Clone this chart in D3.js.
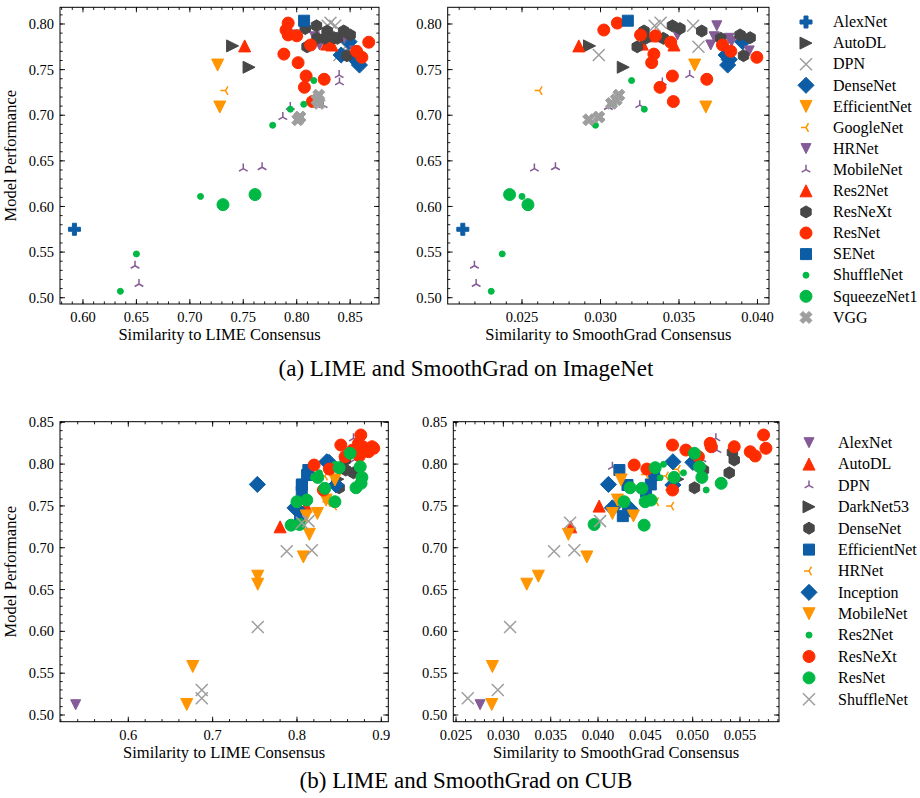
<!DOCTYPE html>
<html><head><meta charset="utf-8">
<script src="https://cdn.jsdelivr.net/npm/d3@7/dist/d3.min.js"></script>
<style>body{margin:0;background:#fff}svg{font-family:"Liberation Serif","Times New Roman",serif}</style>
</head><body><svg id="c" width="920" height="798"></svg>
<script>
// ---------- DATA: each point = [similarity to LIME consensus, similarity to SmoothGrad consensus, model performance]
const imagenetModels = ["AlexNet","AutoDL","DPN","DenseNet","EfficientNet","GoogleNet","HRNet","MobileNet","Res2Net","ResNeXt","ResNet","SENet","ShuffleNet","SqueezeNet1","VGG"];
const inAlexNet = [[0.592,0.02123,0.575]];
const inAutoDL = [[0.740,0.0293,0.776],[0.7554,0.03145,0.7526]];
const inDPN = [[0.8316,0.03383,0.8014],[0.829,0.03345,0.798],[0.836,0.0359,0.798],[0.8456,0.03624,0.775],[0.840,0.02989,0.766]];
const inDenseNet = [[0.849,0.03905,0.7806],[0.8416,0.0380,0.766],[0.855,0.0382,0.761],[0.8587,0.0381,0.755]];
const inEfficientNet = [[0.726,0.0360,0.755],[0.728,0.03671,0.709]];
const inGoogleNet = [[0.7333,0.02612,0.727]];
const inHRNet = [[0.8066,0.03741,0.798],[0.798,0.0349,0.788],[0.8166,0.03724,0.786],[0.8213,0.03702,0.777],[0.8316,0.03835,0.7806],[0.8446,0.03819,0.7843],[0.854,0.03947,0.7705]];
const inMobileNet = [[0.6487,0.02197,0.535],[0.6524,0.02208,0.515],[0.750,0.02579,0.6415],[0.7676,0.02713,0.643],[0.794,0.0305,0.709],[0.8247,0.0325,0.711],[0.840,0.03394,0.736],[0.811,0.03453,0.743],[0.8397,0.03568,0.744],[0.787,0.0300,0.698]];
const inRes2Net = [[0.7513,0.02862,0.776],[0.827,0.03351,0.787],[0.828,0.03266,0.778],[0.833,0.03468,0.777]];
const inResNeXt = [[0.8285,0.03277,0.7923],[0.819,0.03287,0.7843],[0.8097,0.03234,0.775],[0.838,0.034,0.7843],[0.8185,0.03458,0.798],[0.808,0.03506,0.795],[0.844,0.03645,0.7923],[0.826,0.03766,0.7843],[0.85,0.03889,0.788],[0.835,0.03953,0.785],[0.847,0.03911,0.7653]];
const inResNet = [[0.792,0.03107,0.801],[0.790,0.03021,0.7934],[0.792,0.03255,0.788],[0.788,0.0334,0.767],[0.8013,0.03326,0.7576],[0.8088,0.03458,0.743],[0.8072,0.03379,0.7306],[0.8257,0.03677,0.7394],[0.8147,0.03464,0.715],[0.861,0.03996,0.7635],[0.8674,0.03447,0.780],[0.813,0.03777,0.777],[0.856,0.0383,0.770],[0.800,0.0335,0.787]];
const inSENet = [[0.8069,0.03174,0.8036]];
const inShuffleNet = [[0.650,0.02374,0.548],[0.635,0.02304,0.507],[0.710,0.025,0.611],[0.7775,0.02968,0.689],[0.794,0.03279,0.7066],[0.8066,0.03081,0.712],[0.816,0.03198,0.738]];
const inSqueezeNet1 = [[0.761,0.02421,0.613],[0.731,0.02538,0.602]];
const inVGG = [[0.801,0.02925,0.695],[0.803,0.02989,0.698],[0.821,0.0307,0.713],[0.819,0.0310,0.717],[0.8206,0.03117,0.722]];

const cubModels = ["AlexNet","AutoDL","DPN","DarkNet53","DenseNet","EfficientNet","HRNet","Inception","MobileNet","Res2Net","ResNeXt","ResNet","ShuffleNet"];
const cubAlexNet = [[0.5376,0.02754,0.5123]];
const cubAutoDL = [[0.780,0.03712,0.725],[0.8108,0.04012,0.7498]];
const cubDPN = [[0.867,0.05245,0.8308],[0.873,0.05256,0.8168],[0.869,0.05097,0.8057],[0.838,0.04152,0.7968]];
const cubDarkNet53 = [[0.8484,0.04843,0.782]];
const cubDenseNet = [[0.8737,0.0542,0.814],[0.8574,0.05439,0.8049],[0.867,0.05386,0.7896],[0.8579,0.05114,0.7929],[0.850,0.05019,0.7717]];
const cubEfficientNet = [[0.8135,0.04226,0.7929],[0.8057,0.04311,0.775],[0.8037,0.04262,0.7378],[0.8057,0.04508,0.767],[0.806,0.04558,0.7757],[0.812,0.04593,0.7869]];
const cubHRNet = [[0.823,0.04505,0.7877],[0.836,0.04614,0.755],[0.8333,0.04717,0.7857],[0.8313,0.04762,0.769],[0.844,0.04773,0.7498],[0.8384,0.04843,0.7937]];
const cubInception = [[0.753,0.0411,0.7757],[0.7977,0.04152,0.7477],[0.800,0.04339,0.7462],[0.8353,0.04791,0.8028],[0.8464,0.04791,0.775],[0.838,0.05002,0.8021]];
const cubMobileNet = [[0.6693,0.02877,0.5126],[0.6764,0.02884,0.558],[0.7535,0.03247,0.6564],[0.7535,0.0337,0.666],[0.8147,0.03687,0.716],[0.8076,0.03882,0.689],[0.845,0.04244,0.781],[0.8345,0.04205,0.757],[0.8242,0.04152,0.741],[0.811,0.04374,0.738]];
const cubRes2Net = [[0.845,0.04692,0.7997],[0.8195,0.04656,0.7837],[0.8266,0.04903,0.7896],[0.830,0.05143,0.769]];
const cubResNeXt = [[0.8757,0.05749,0.8348],[0.852,0.04787,0.8228],[0.873,0.05185,0.8248],[0.889,0.05195,0.8208],[0.878,0.05439,0.8208],[0.866,0.04928,0.8168],[0.885,0.05608,0.8148],[0.874,0.05661,0.8097],[0.891,0.05774,0.8189],[0.857,0.05061,0.8088],[0.8203,0.04382,0.7989],[0.8384,0.04516,0.7941],[0.8313,0.04787,0.769]];
const cubResNet = [[0.850,0.04604,0.7957],[0.8116,0.04561,0.757],[0.833,0.04463,0.771],[0.870,0.04339,0.7717],[0.845,0.04276,0.755],[0.800,0.04498,0.755],[0.793,0.04487,0.727],[0.803,0.03959,0.7278],[0.863,0.05019,0.8129],[0.875,0.05072,0.7968],[0.877,0.05097,0.7841],[0.876,0.05301,0.777],[0.8247,0.04804,0.7841]];
const cubShuffleNet = [[0.6871,0.02624,0.520],[0.6871,0.02941,0.530],[0.7535,0.03071,0.6052],[0.7879,0.03536,0.6959],[0.8176,0.0375,0.697],[0.8057,0.03705,0.7298],[0.8136,0.04022,0.7318]];

const xLabels = ["Similarity to LIME Consensus","Similarity to SmoothGrad Consensus"];
const yLabel = "Model Performance";
const captions = ["(a) LIME and SmoothGrad on ImageNet","(b) LIME and SmoothGrad on CUB"];

// ---------- STYLE
const COL = {blue:"#0C5DA5", green:"#00B945", orange:"#FF9500", red:"#FF2C00", purple:"#845B97", dark:"#474747", gray:"#9e9e9e"};
const imagenetStyle = {
  AlexNet:["P","blue",12], AutoDL:[">","dark",12], DPN:["x","gray",12], DenseNet:["D","blue",12],
  EfficientNet:["v","orange",12], GoogleNet:["3","orange",10], HRNet:["v","purple",10], MobileNet:["2","purple",10],
  Res2Net:["^","red",12], ResNeXt:["h","dark",12], ResNet:["o","red",12], SENet:["s","blue",11],
  ShuffleNet:[".","green",12], SqueezeNet1:["o","green",12], VGG:["X","gray",12]
};
const imagenetData = {AlexNet:inAlexNet, AutoDL:inAutoDL, DPN:inDPN, DenseNet:inDenseNet, EfficientNet:inEfficientNet, GoogleNet:inGoogleNet, HRNet:inHRNet, MobileNet:inMobileNet, Res2Net:inRes2Net, ResNeXt:inResNeXt, ResNet:inResNet, SENet:inSENet, ShuffleNet:inShuffleNet, SqueezeNet1:inSqueezeNet1, VGG:inVGG};
const cubStyle = {
  AlexNet:["v","purple",10], AutoDL:["^","red",12], DPN:["2","purple",10], DarkNet53:[">","dark",12],
  DenseNet:["h","dark",12], EfficientNet:["s","blue",11], HRNet:["3","orange",10], Inception:["D","blue",12],
  MobileNet:["v","orange",12], Res2Net:[".","green",12], ResNeXt:["o","red",12], ResNet:["o","green",12], ShuffleNet:["x","gray",12]
};
const cubData = {AlexNet:cubAlexNet, AutoDL:cubAutoDL, DPN:cubDPN, DarkNet53:cubDarkNet53, DenseNet:cubDenseNet, EfficientNet:cubEfficientNet, HRNet:cubHRNet, Inception:cubInception, MobileNet:cubMobileNet, Res2Net:cubRes2Net, ResNeXt:cubResNeXt, ResNet:cubResNet, ShuffleNet:cubShuffleNet};

function circ(r){return `M${r},0A${r},${r} 0 1,1 ${-r},0A${r},${r} 0 1,1 ${r},0Z`;}
function poly(pts,k){return "M"+pts.map(p=>[p[0]*k,p[1]*k].join(",")).join("L")+"Z";}
function markerPath(m,s){
  const h=s/2;
  switch(m){
    case "o": return circ(h);
    case ".": return circ(s/4);
    case "^": return `M0,${-h}L${h},${h}L${-h},${h}Z`;
    case "v": return `M0,${h}L${h},${-h}L${-h},${-h}Z`;
    case ">": return `M${h},0L${-h},${-h}L${-h},${h}Z`;
    case "s": return `M${-h},${-h}H${h}V${h}H${-h}Z`;
    case "D": {const d=h*Math.SQRT2*0.95; return `M0,${-d}L${d},0L0,${d}L${-d},0Z`;}
    case "h": {const pts=d3.range(6).map(k=>{const a=Math.PI/2+k*Math.PI/3; return [h*Math.cos(a),-h*Math.sin(a)];}); return poly(pts,1);}
    case "P": return poly([[-1,-3],[1,-3],[1,-1],[3,-1],[3,1],[1,1],[1,3],[-1,3],[-1,1],[-3,1],[-3,-1],[-1,-1]],s/6);
    case "X": return poly([[-1,-2],[0,-1],[1,-2],[2,-1],[1,0],[2,1],[1,2],[0,1],[-1,2],[-2,1],[-1,0],[-2,-1]],s/4);
    case "x": return `M${-h},${-h}L${h},${h}M${-h},${h}L${h},${-h}`;
    case "2": return `M0,0L0,${-h}M0,0L${-0.866*h},${0.5*h}M0,0L${0.866*h},${0.5*h}`;
    case "3": return `M0,0L${-h},0M0,0L${0.5*h},${-0.866*h}M0,0L${0.5*h},${0.866*h}`;
  }
}
const lineMarkers = new Set(["x","2","3"]);
function drawMarker(g,st,x,y){
  const [m,c,s]=st; const col=COL[c];
  const p=g.append("path").attr("d",markerPath(m,s)).attr("transform",`translate(${x},${y})`);
  if(lineMarkers.has(m)) p.attr("fill","none").attr("stroke",col).attr("stroke-width",1.5);
  else p.attr("fill",col).attr("stroke",col).attr("stroke-width",1);
}

const svg=d3.select("#c");
const TICK_FS=14.5, LAB_FS=16.5, LEG_FS=16, CAP_FS=23;

function ticksFor(dom,step){
  const out=[]; const k0=Math.ceil(dom[0]/step-1e-6), k1=Math.floor(dom[1]/step+1e-6);
  for(let k=k0;k<=k1;k++) out.push(+(k*step).toFixed(6));
  return out;
}

let clipId=0;
function panel(cfg){
  const x=d3.scaleLinear().domain(cfg.xd).range([cfg.l,cfg.r]);
  const y=d3.scaleLinear().domain(cfg.yd).range([cfg.b,cfg.t]);
  const g=svg.append("g");
  const id="clip"+(clipId++);
  g.append("clipPath").attr("id",id).append("rect").attr("x",cfg.l).attr("y",cfg.t).attr("width",cfg.r-cfg.l).attr("height",cfg.b-cfg.t);
  const pg=g.append("g").attr("clip-path",`url(#${id})`);
  cfg.models.forEach(name=>{
    cfg.data[name].forEach(d=>drawMarker(pg,cfg.style[name],x(d[cfg.xi]),y(d[2])));
  });
  g.append("rect").attr("x",cfg.l).attr("y",cfg.t).attr("width",cfg.r-cfg.l).attr("height",cfg.b-cfg.t)
    .attr("fill","none").attr("stroke","#000").attr("stroke-width",1);
  const tk=g.append("g").attr("stroke","#000").attr("stroke-width",0.9);
  const xMaj=ticksFor(cfg.xd,cfg.xs), xMin=ticksFor(cfg.xd,cfg.xs/5);
  const yMaj=ticksFor(cfg.yd,0.05), yMin=ticksFor(cfg.yd,0.01);
  const ML=5, mL=2.6;
  xMin.forEach(v=>{const px=x(v); tk.append("line").attr("x1",px).attr("x2",px).attr("y1",cfg.b).attr("y2",cfg.b-mL); tk.append("line").attr("x1",px).attr("x2",px).attr("y1",cfg.t).attr("y2",cfg.t+mL);});
  xMaj.forEach(v=>{const px=x(v); tk.append("line").attr("x1",px).attr("x2",px).attr("y1",cfg.b).attr("y2",cfg.b-ML); tk.append("line").attr("x1",px).attr("x2",px).attr("y1",cfg.t).attr("y2",cfg.t+ML);});
  yMin.forEach(v=>{const py=y(v); tk.append("line").attr("y1",py).attr("y2",py).attr("x1",cfg.l).attr("x2",cfg.l+mL); tk.append("line").attr("y1",py).attr("y2",py).attr("x1",cfg.r).attr("x2",cfg.r-mL);});
  yMaj.forEach(v=>{const py=y(v); tk.append("line").attr("y1",py).attr("y2",py).attr("x1",cfg.l).attr("x2",cfg.l+ML); tk.append("line").attr("y1",py).attr("y2",py).attr("x1",cfg.r).attr("x2",cfg.r-ML);});
  const xf=d3.format(cfg.xf), yf=d3.format(".2f");
  xMaj.forEach(v=>g.append("text").attr("x",x(v)).attr("y",cfg.b+18).attr("text-anchor","middle").attr("font-size",TICK_FS).text(xf(v)));
  yMaj.forEach(v=>g.append("text").attr("x",cfg.l-6).attr("y",y(v)).attr("dy","0.35em").attr("text-anchor","end").attr("font-size",TICK_FS).text(yf(v)));
  g.append("text").attr("x",(cfg.l+cfg.r)/2).attr("y",cfg.b+36).attr("text-anchor","middle").attr("font-size",LAB_FS).text(cfg.xlab);
  if(cfg.ylab) g.append("text").attr("transform",`translate(16,${(cfg.t+cfg.b)/2}) rotate(-90)`).attr("text-anchor","middle").attr("font-size",LAB_FS).text(cfg.ylab);
}

function legend(models,style,mx,tx,y0,dy){
  const g=svg.append("g");
  models.forEach((name,i)=>{
    const yy=y0+i*dy;
    drawMarker(g,style[name],mx,yy);
    g.append("text").attr("x",tx).attr("y",yy).attr("dy","0.33em").attr("font-size",LEG_FS).text(name);
  });
}

const topY=[0.4931,0.8183], botY=[0.492,0.8507];
panel({l:60,r:379,t:7.3,b:304,xd:[0.5785,0.877],yd:topY,xs:0.05,xf:".2f",xi:0,models:imagenetModels,data:imagenetData,style:imagenetStyle,xlab:xLabels[0],ylab:yLabel});
panel({l:447.7,r:769,t:7.3,b:304,xd:[0.020267,0.040733],yd:topY,xs:0.005,xf:".3f",xi:1,models:imagenetModels,data:imagenetData,style:imagenetStyle,xlab:xLabels[1]});
panel({l:60,r:388.3,t:421.7,b:721.7,xd:[0.519,0.9083],yd:botY,xs:0.1,xf:".1f",xi:0,models:cubModels,data:cubData,style:cubStyle,xlab:xLabels[0],ylab:yLabel});
panel({l:453.3,r:779,t:421.7,b:721.7,xd:[0.02471,0.05912],yd:botY,xs:0.005,xf:".3f",xi:1,models:cubModels,data:cubData,style:cubStyle,xlab:xLabels[1]});

legend(imagenetModels,imagenetStyle,806,833,22,21.1);
legend(cubModels,cubStyle,809,838,442.7,21.38);

svg.append("text").attr("x",466).attr("y",368).attr("dy","0.35em").attr("text-anchor","middle").attr("font-size",CAP_FS).text(captions[0]);
svg.append("text").attr("x",466).attr("y",780).attr("dy","0.35em").attr("text-anchor","middle").attr("font-size",CAP_FS).text(captions[1]);
</script></body></html>
